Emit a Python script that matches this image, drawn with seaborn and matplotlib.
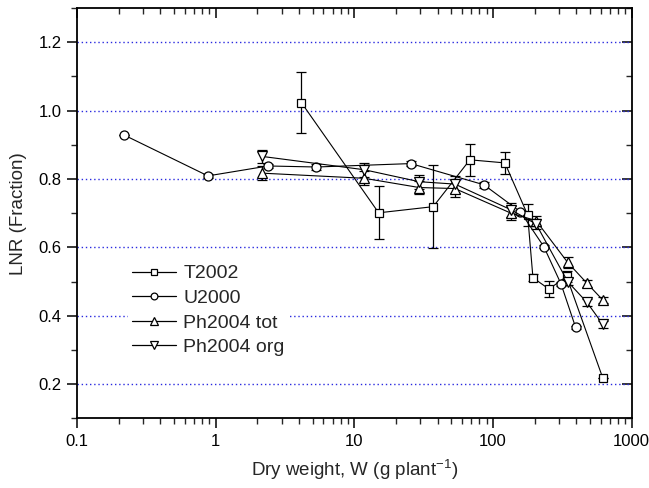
import matplotlib
matplotlib.use("Agg")
import matplotlib.pyplot as plt
import seaborn as sns
import numpy as np
import pandas as pd
from matplotlib.ticker import FixedLocator, NullFormatter, MultipleLocator

# Leaf nitrogen ratio versus plant dry weight for four data sets
t2002_w = [4.16, 15.0, 37.1, 68.2, 122, 178, 194.5, 254, 340, 620]
t2002_lnr = [1.023, 0.701, 0.719, 0.856, 0.847, 0.695, 0.511, 0.478, 0.515, 0.218]
t2002_err = [0.089, 0.078, 0.122, 0.046, 0.033, 0.033, 0.010, 0.024, 0.015, 0.0]

u2000_w = [0.220, 0.88, 2.39, 5.33, 25.6, 86.1, 158, 233, 310, 395]
u2000_lnr = [0.928, 0.809, 0.838, 0.835, 0.845, 0.783, 0.704, 0.602, 0.493, 0.366]
u2000_err = [0.0, 0.006, 0.005, 0.010, 0.008, 0.008, 0.006, 0.005, 0.006, 0.004]

phtot_w = [2.16, 11.8, 29.4, 53.2, 135, 205, 346, 477, 620]
phtot_lnr = [0.817, 0.802, 0.775, 0.772, 0.700, 0.678, 0.556, 0.495, 0.446]
phtot_err = [0.020, 0.020, 0.020, 0.025, 0.020, 0.015, 0.015, 0.010, 0.010]

phorg_w = [2.16, 11.8, 29.4, 53.2, 135, 205, 346, 477, 620]
phorg_lnr = [0.866, 0.827, 0.792, 0.785, 0.710, 0.668, 0.500, 0.439, 0.375]
phorg_err = [0.020, 0.020, 0.020, 0.025, 0.020, 0.015, 0.010, 0.010, 0.010]

series = [
    ("T2002", t2002_w, t2002_lnr, t2002_err, "s", 6.0),
    ("U2000", u2000_w, u2000_lnr, u2000_err, "o", 6.5),
    ("Ph2004 tot", phtot_w, phtot_lnr, phtot_err, "^", 7.0),
    ("Ph2004 org", phorg_w, phorg_lnr, phorg_err, "v", 7.0),
]

sns.set_style("ticks")
plt.rcParams["font.family"] = ["Liberation Sans", "DejaVu Sans"]
plt.rcParams["mathtext.fontset"] = "custom"
plt.rcParams["mathtext.rm"] = "Liberation Sans"
plt.rcParams["mathtext.it"] = "Liberation Sans:italic"

fig = plt.figure(figsize=(6.49, 4.88), dpi=100)
ax = fig.add_axes([0.1186, 0.1428, 0.8545, 0.8408])

handles = []
for name, w, lnr, err, mk, ms in series:
    df = pd.DataFrame({"w": w, "lnr": lnr})
    ax.errorbar(w, lnr, yerr=err, fmt="none", ecolor="black", elinewidth=0.9,
                capsize=3.3, capthick=0.9, zorder=2)
    sns.lineplot(data=df, x="w", y="lnr", ax=ax, color="black", linewidth=0.8,
                 marker=mk, markersize=ms, markerfacecolor="white",
                 markeredgecolor="black", markeredgewidth=0.9, zorder=3)
    h, = ax.plot([], [], color="black", linewidth=0.9, marker=mk,
                 markersize=ms * 0.75, markerfacecolor="white",
                 markeredgecolor="black", markeredgewidth=0.9, label=name)
    handles.append(h)

ax.set_xscale("log")
ax.set_xlim(0.1, 1000)
ax.set_ylim(0.1, 1.3)

ax.set_xticks([0.1, 1, 10, 100, 1000])
ax.set_xticklabels(["0.1", "1", "10", "100", "1000"])
ax.xaxis.set_minor_locator(matplotlib.ticker.LogLocator(base=10, subs=np.arange(2, 10)))
ax.xaxis.set_minor_formatter(NullFormatter())
ax.yaxis.set_major_locator(FixedLocator([0.2, 0.4, 0.6, 0.8, 1.0, 1.2]))
ax.set_yticklabels(["0.2", "0.4", "0.6", "0.8", "1.0", "1.2"])
ax.yaxis.set_minor_locator(MultipleLocator(0.1))

for yv in [0.2, 0.4, 0.6, 0.8, 1.0, 1.2]:
    ax.axhline(yv, color="#2a2ae0", linestyle=(0, (1, 2)), linewidth=1.0, zorder=1)

for side in ["top", "right", "bottom", "left"]:
    ax.spines[side].set_visible(True)
    ax.spines[side].set_linewidth(1.3)
    ax.spines[side].set_color("black")

ax.tick_params(axis="both", which="major", direction="out", length=7, width=1.1,
               labelsize=12, colors="black", pad=4)
ax.tick_params(axis="both", which="minor", direction="out", length=4, width=1.0)
ax.tick_params(top=True, right=True, which="both")
# mirrored ticks on top/right point inward
for t in ax.xaxis.get_major_ticks() + ax.xaxis.get_minor_ticks():
    t.tick2line.set_marker(matplotlib.lines.TICKDOWN)
for t in ax.yaxis.get_major_ticks() + ax.yaxis.get_minor_ticks():
    t.tick2line.set_marker(matplotlib.lines.TICKLEFT)

ax.set_xlabel("Dry weight, W (g plant$^{-1}$)", fontsize=13.5, labelpad=7)
ax.set_ylabel("LNR (Fraction)", fontsize=13.5, labelpad=8)

leg = ax.legend(handles=handles, loc="lower left", bbox_to_anchor=(0.074, 0.118),
                frameon=True, fontsize=14, handlelength=2.3, handletextpad=0.35,
                labelspacing=0.36, borderpad=0.2, markerscale=1.0)
leg.get_frame().set_facecolor("white")
leg.get_frame().set_edgecolor("none")
leg.get_frame().set_alpha(1.0)
leg.set_zorder(5)

fig.savefig("out.png", dpi=100)
